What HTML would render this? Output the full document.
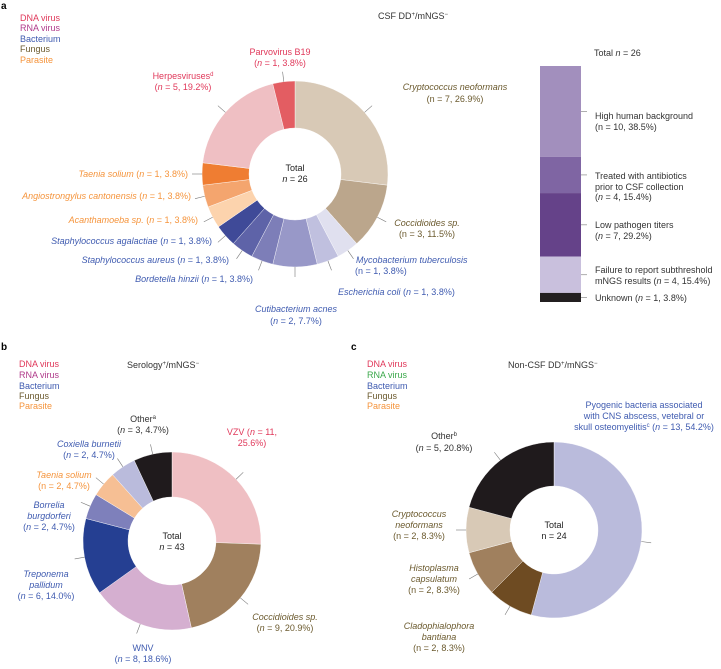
<!DOCTYPE html>
<html><head><meta charset="utf-8"><style>
body{margin:0;background:#fff;width:721px;height:664px;overflow:hidden}
svg{font-family:"Liberation Sans",sans-serif;font-size:9px}
.i{font-style:italic}
</style></head><body>
<svg id="s" width="721" height="664" viewBox="0 0 721 664">
<g id="txt">
<text x="1" y="9" font-weight="bold" font-size="10">a</text>
<g>
<text x="20" y="21" fill="#e0385a">DNA virus</text><text x="20" y="31" fill="#b03a8a">RNA virus</text><text x="20" y="42" fill="#3f5bb0">Bacterium</text><text x="20" y="52" fill="#6b5a2e">Fungus</text><text x="20" y="63" fill="#f5943c">Parasite</text></g>
<text x="378" y="19" fill="#333">CSF DD<tspan dy="-3" font-size="6">+</tspan><tspan dy="3">/mNGS</tspan><tspan dy="-3" font-size="6">−</tspan></text>
<g text-anchor="middle" fill="#e0385a"><text x="280" y="55">Parvovirus B19</text><text x="280" y="66">(<tspan class="i">n</tspan> = 1, 3.8%)</text>
<text x="183" y="79">Herpesviruses<tspan dy="-3" font-size="6">d</tspan></text><text x="183" y="90">(<tspan class="i">n</tspan> = 5, 19.2%)</text></g>
<g text-anchor="middle" fill="#6b5a2e"><text x="455" y="90" class="i">Cryptococcus neoformans</text><text x="455" y="102">(n = 7, 26.9%)</text>
<text x="427" y="226" class="i">Coccidioides sp.</text><text x="427" y="237">(n = 3, 11.5%)</text></g>
<g fill="#3f5bb0"><text x="356" y="263" class="i">Mycobacterium tuberculosis</text><text x="355" y="274">(n = 1, 3.8%)</text>
<text x="338" y="295"><tspan class="i">Escherichia coli</tspan> (<tspan class="i">n</tspan> = 1, 3.8%)</text>
<text x="296" y="312" text-anchor="middle" class="i">Cutibacterium acnes</text><text x="296" y="324" text-anchor="middle">(<tspan class="i">n</tspan> = 2, 7.7%)</text>
<g text-anchor="end"><text x="253" y="282"><tspan class="i">Bordetella hinzii</tspan> (<tspan class="i">n</tspan> = 1, 3.8%)</text>
<text x="229" y="263"><tspan class="i">Staphylococcus aureus</tspan> (<tspan class="i">n</tspan> = 1, 3.8%)</text>
<text x="212" y="244"><tspan class="i">Staphylococcus agalactiae</tspan> (<tspan class="i">n</tspan> = 1, 3.8%)</text></g></g>
<g fill="#f5943c" text-anchor="end"><text x="198" y="223"><tspan class="i">Acanthamoeba sp.</tspan> (<tspan class="i">n</tspan> = 1, 3.8%)</text>
<text x="191" y="199"><tspan class="i">Angiostrongylus cantonensis</tspan> (<tspan class="i">n</tspan> = 1, 3.8%)</text>
<text x="188" y="177"><tspan class="i">Taenia solium</tspan> (<tspan class="i">n</tspan> = 1, 3.8%)</text></g>
<g text-anchor="middle" fill="#222"><text x="295" y="171">Total</text><text x="295" y="182"><tspan class="i">n</tspan> = 26</text></g>
<text x="594" y="56" fill="#333">Total <tspan class="i">n</tspan> =  26</text>
<g fill="#333"><text x="595" y="119">High human background</text><text x="595" y="130">(n = 10, 38.5%)</text>
<text x="595" y="179">Treated with antibiotics</text><text x="595" y="190">prior to CSF collection</text><text x="595" y="200">(<tspan class="i">n</tspan> = 4, 15.4%)</text>
<text x="595" y="228">Low pathogen titers</text><text x="595" y="239">(<tspan class="i">n</tspan> = 7, 29.2%)</text>
<text x="595" y="273">Failure to report subthreshold</text><text x="595" y="284">mNGS results (<tspan class="i">n</tspan> = 4, 15.4%)</text>
<text x="595" y="301">Unknown (<tspan class="i">n</tspan> = 1, 3.8%)</text></g>

<text x="1" y="350" font-weight="bold" font-size="10">b</text>
<g><text x="19" y="367" fill="#e0385a">DNA virus</text><text x="19" y="378" fill="#b03a8a">RNA virus</text><text x="19" y="389" fill="#3f5bb0">Bacterium</text><text x="19" y="399" fill="#6b5a2e">Fungus</text><text x="19" y="409" fill="#f5943c">Parasite</text></g>
<text x="127" y="368" fill="#333">Serology<tspan dy="-3" font-size="6">+</tspan><tspan dy="3">/mNGS</tspan><tspan dy="-3" font-size="6">−</tspan></text>
<g text-anchor="middle"><text x="143" y="422" fill="#333">Other<tspan dy="-3" font-size="6">a</tspan></text><text x="143" y="433" fill="#333">(<tspan class="i">n</tspan> = 3, 4.7%)</text>
<text x="252" y="435" fill="#e0385a">VZV (<tspan class="i">n</tspan> = 11,</text><text x="252" y="446" fill="#e0385a">25.6%)</text>
<g fill="#3f5bb0"><text x="89" y="447" class="i">Coxiella burnetii</text><text x="89" y="458">(<tspan class="i">n</tspan> = 2, 4.7%)</text>
<text x="49" y="508" class="i">Borrelia</text><text x="49" y="519" class="i">burgdorferi</text><text x="49" y="530">(<tspan class="i">n</tspan> = 2, 4.7%)</text>
<text x="46" y="577" class="i">Treponema</text><text x="46" y="588" class="i">pallidum</text><text x="46" y="599">(<tspan class="i">n</tspan> = 6, 14.0%)</text>
<text x="143" y="651">WNV</text><text x="143" y="662">(<tspan class="i">n</tspan> = 8, 18.6%)</text></g>
<g fill="#f5943c"><text x="64" y="478" class="i">Taenia solium</text><text x="64" y="489">(n = 2, 4.7%)</text></g>
<g fill="#6b5a2e"><text x="285" y="620" class="i">Coccidioides sp.</text><text x="285" y="631">(<tspan class="i">n</tspan> = 9, 20.9%)</text></g>
<g fill="#222"><text x="172" y="539">Total</text><text x="172" y="550"><tspan class="i">n</tspan> = 43</text></g></g>

<text x="351" y="350" font-weight="bold" font-size="10">c</text>
<g><text x="367" y="367" fill="#e0385a">DNA virus</text><text x="367" y="378" fill="#3aa84a">RNA virus</text><text x="367" y="389" fill="#3f5bb0">Bacterium</text><text x="367" y="399" fill="#6b5a2e">Fungus</text><text x="367" y="409" fill="#f5943c">Parasite</text></g>
<text x="508" y="368" fill="#333">Non-CSF DD<tspan dy="-3" font-size="6">+</tspan><tspan dy="3">/mNGS</tspan><tspan dy="-3" font-size="6">−</tspan></text>
<g text-anchor="middle"><g fill="#3f5bb0"><text x="644" y="408">Pyogenic bacteria associated</text><text x="644" y="419">with CNS abscess, vetebral or</text><text x="644" y="430">skull osteomyelitis<tspan dy="-3" font-size="6">c</tspan><tspan dy="3"> (</tspan><tspan class="i">n</tspan> = 13, 54.2%)</text></g>
<g fill="#333"><text x="444" y="439">Other<tspan dy="-3" font-size="6">b</tspan></text><text x="444" y="451">(<tspan class="i">n</tspan> = 5, 20.8%)</text></g>
<g fill="#6b5a2e"><text x="419" y="517" class="i">Cryptococcus</text><text x="419" y="528" class="i">neoformans</text><text x="419" y="539">(n = 2, 8.3%)</text>
<text x="434" y="571" class="i">Histoplasma</text><text x="434" y="582" class="i">capsulatum</text><text x="434" y="593">(n = 2, 8.3%)</text>
<text x="439" y="629" class="i">Cladophialophora</text><text x="439" y="640" class="i">bantiana</text><text x="439" y="651">(n = 2, 8.3%)</text></g>
<g fill="#222"><text x="554" y="528">Total</text><text x="554" y="539">n = 24</text></g></g>
</g>
<g id="marks"></g>
</svg>
<script>
const aNames=["Cryptococcus neoformans","Coccidioides sp.","Mycobacterium tuberculosis","Escherichia coli","Cutibacterium acnes","Bordetella hinzii","Staphylococcus aureus","Staphylococcus agalactiae","Acanthamoeba sp.","Angiostrongylus cantonensis","Taenia solium","Herpesviruses","Parvovirus B19"];
const aValues=[7,3,1,1,2,1,1,1,1,1,1,5,1];
const aColors=["#d8c9b6","#bba68c","#e0e0ef","#c0c0df","#9898c8","#7d7eb8","#5e63a8","#3f4a98","#fcd3ad","#f4a56e","#ef7d32","#efbfc3","#e35d62"];
const bNames=["VZV","Coccidioides sp.","WNV","Treponema pallidum","Borrelia burgdorferi","Taenia solium","Coxiella burnetii","Other"];
const bValues=[11,9,8,6,2,2,2,3];
const bColors=["#efbfc3","#a0805e","#d5afd0","#253f92","#7e80bb","#f6bf94","#babbdc","#1f1a1c"];
const cNames=["Pyogenic bacteria","Cladophialophora bantiana","Histoplasma capsulatum","Cryptococcus neoformans","Other"];
const cValues=[13,2,2,2,5];
const cColors=["#babbdc","#6e4b22","#a0805e","#d8c9b6","#1f1a1c"];
const barNames=["High human background","Treated with antibiotics","Low pathogen titers","Failure to report subthreshold","Unknown"];
const barValues=[10,4,7,4,1];
const barColors=["#a28fbd","#7f65a3","#654289","#c9c0dd","#231f20"];
const NS="http://www.w3.org/2000/svg";
const marks=document.getElementById('marks');
function pt(cx,cy,r,a){return [cx+r*Math.sin(a),cy-r*Math.cos(a)];}
function donut(key,cx,cy,ro,ri,vals,cols,names){
  const tot=vals.reduce((s,v)=>s+v,0);let a0=0;
  vals.forEach((v,i)=>{
    const a1=a0+v/tot*2*Math.PI;const lg=(a1-a0)>Math.PI?1:0;
    const p1=pt(cx,cy,ro,a0),p2=pt(cx,cy,ro,a1),p3=pt(cx,cy,ri,a1),p4=pt(cx,cy,ri,a0);
    const p=document.createElementNS(NS,'path');
    p.setAttribute('d',`M${p1}A${ro},${ro} 0 ${lg} 1 ${p2}L${p3}A${ri},${ri} 0 ${lg} 0 ${p4}Z`);
    p.setAttribute('fill',cols[i]);p.setAttribute('stroke','#fff');p.setAttribute('stroke-width','0.4');
    
    
    marks.appendChild(p);
    const am=(a0+a1)/2,q1=pt(cx,cy,ro,am),q2=pt(cx,cy,ro+10,am);
    const l=document.createElementNS(NS,'line');
    l.setAttribute('x1',q1[0]);l.setAttribute('y1',q1[1]);l.setAttribute('x2',q2[0]);l.setAttribute('y2',q2[1]);
    l.setAttribute('stroke','#777');l.setAttribute('stroke-width','0.6');
    
    
    marks.appendChild(l);
    a0=a1;
  });
}
donut('donut-a',295,174,93,46,aValues,aColors,aNames);
donut('donut-b',172,541,89,44,bValues,bColors,bNames);
donut('donut-c',554,530,88,44,cValues,cColors,cNames);
(function(){
  const x=540,w=41,top=66,h=236;const tot=barValues.reduce((s,v)=>s+v,0);let y=top;
  barValues.forEach((v,i)=>{
    const hh=v/tot*h;
    const r=document.createElementNS(NS,'rect');
    r.setAttribute('x',x);r.setAttribute('y',y);r.setAttribute('width',w);r.setAttribute('height',hh);r.setAttribute('fill',barColors[i]);
    
    
    marks.appendChild(r);
    const t=document.createElementNS(NS,'line');const ym=y+hh/2;
    t.setAttribute('x1',x+w);t.setAttribute('x2',x+w+6);t.setAttribute('y1',ym);t.setAttribute('y2',ym);t.setAttribute('stroke','#777');t.setAttribute('stroke-width','0.6');
    
    
    marks.appendChild(t);
    y+=hh;
  });
})();
</script>
</body></html>
